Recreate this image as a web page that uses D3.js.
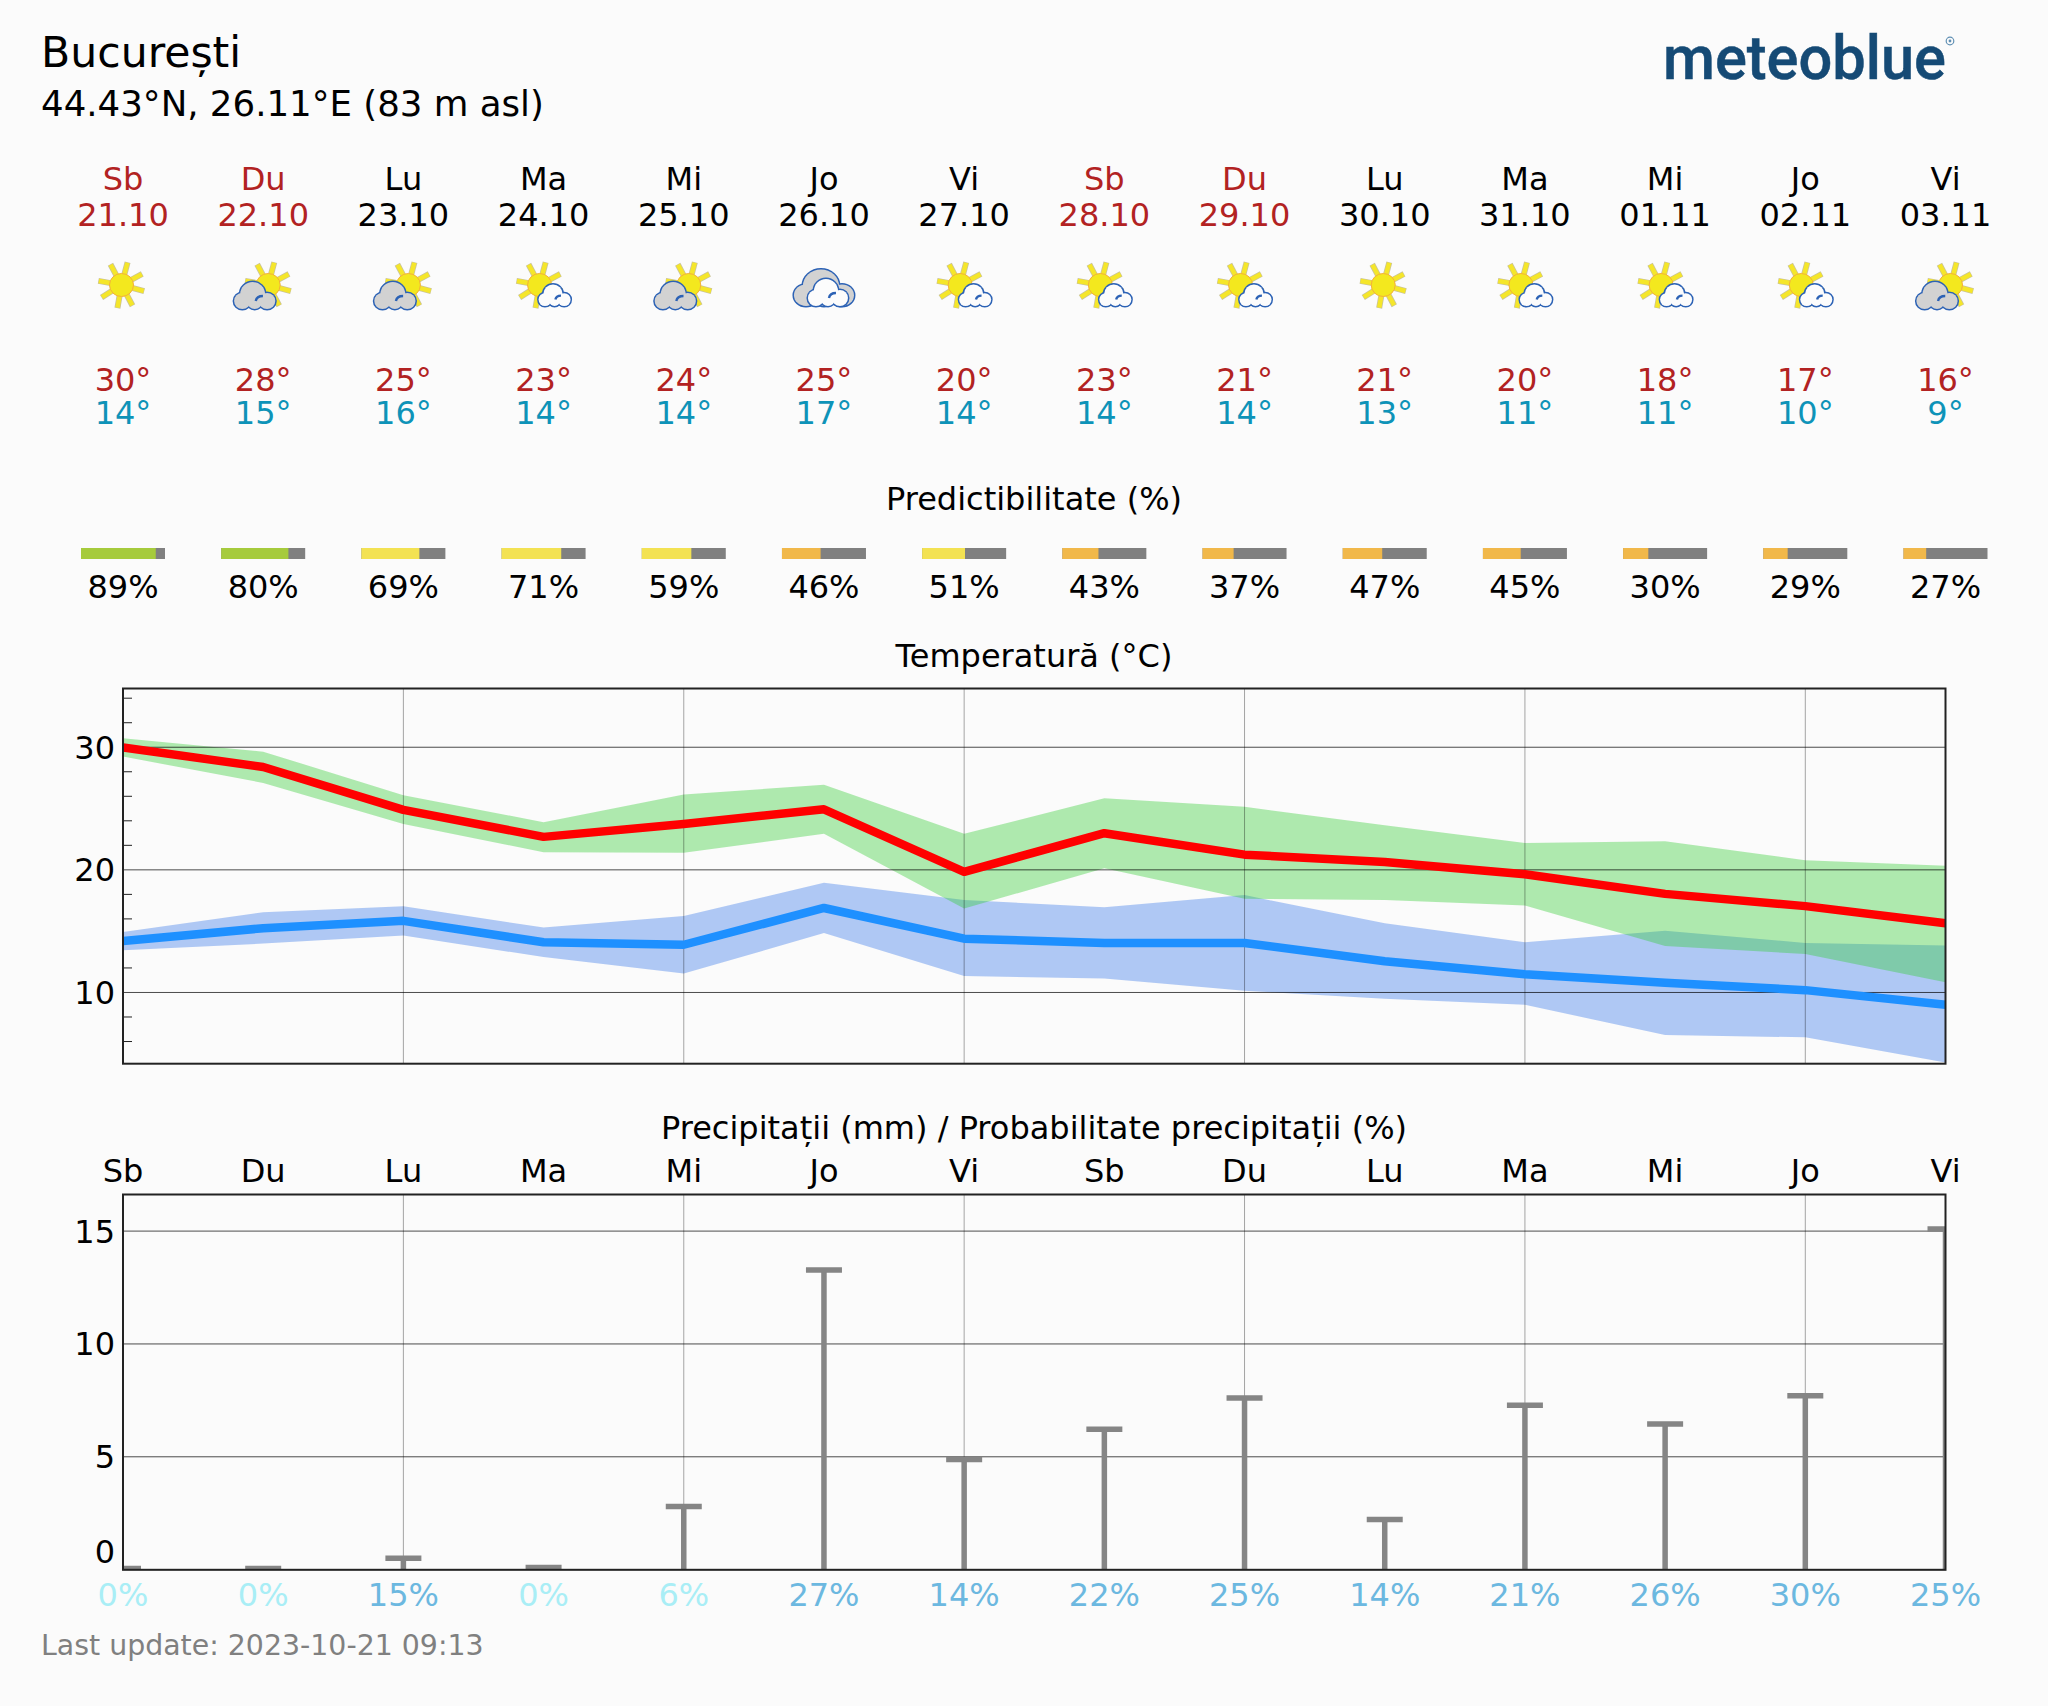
<!DOCTYPE html>
<html>
<head>
<meta charset="utf-8">
<script src="https://cdn.jsdelivr.net/npm/d3@7"></script>
<style>
html,body{margin:0;padding:0;background:#fbfbfb}
svg{display:block}
text{font-family:"DejaVu Sans",sans-serif}
</style>
</head>
<body>
<svg id="chart" width="2048" height="1706"></svg>
<script>
const dayNames = ["Sb","Du","Lu","Ma","Mi","Jo","Vi","Sb","Du","Lu","Ma","Mi","Jo","Vi"];
const dates = ["21.10","22.10","23.10","24.10","25.10","26.10","27.10","28.10","29.10","30.10","31.10","01.11","02.11","03.11"];
const weekend = [1,1,0,0,0,0,0,1,1,0,0,0,0,0];
const icons = ["sun","sunGrey","sunGrey","sunWhite","sunGrey","clouds","sunWhite","sunWhite","sunWhite","sun","sunWhite","sunWhite","sunWhite","sunGrey"];
const tempMaxLabels = [30,28,25,23,24,25,20,23,21,21,20,18,17,16];
const tempMinLabels = [14,15,16,14,14,17,14,14,14,13,11,11,10,9];
const predictability = [89,80,69,71,59,46,51,43,37,47,45,30,29,27];
const tempMax = [29.95,28.35,24.85,22.65,23.7,24.9,19.8,22.95,21.2,20.6,19.6,18.0,17.0,15.6];
const tempMaxUpper = [30.7,29.6,26.05,23.85,26.1,26.9,22.9,25.8,25.1,23.6,22.15,22.3,20.75,20.3];
const tempMaxLower = [29.2,27.05,23.7,21.4,21.35,22.9,16.8,20.1,17.6,17.5,17.05,13.75,13.1,10.8];
const tempMin = [14.15,15.2,15.8,14.05,13.85,16.85,14.35,14.0,14.0,12.5,11.45,10.75,10.15,8.95];
const tempMinUpper = [14.9,16.5,17.0,15.25,16.2,18.9,17.5,16.9,17.9,15.6,14.05,15.0,14.0,13.8];
const tempMinLower = [13.4,13.95,14.6,12.85,11.5,14.8,11.3,11.1,10.1,9.45,8.95,6.5,6.3,4.25];
const precip = [0.03,0.03,0.48,0.07,2.78,13.26,4.86,6.2,7.58,2.2,7.26,6.43,7.68,15.07];
const precipProb = [0,0,15,0,6,27,14,22,25,14,21,26,30,25];
const tempTicks = [10,20,30];
const tempMinorTicks = [6,8,12,14,16,18,22,24,26,28,32,34];
const precipTicks = [0,5,10,15];
const gridDays = [2,4,6,8,10,12];

const FS = 32;
const svg = d3.select("#chart");
const L = 123, R = 1945.5;
const x = d3.scaleLinear().domain([0,13]).range([L,R]);
const yT = d3.scaleLinear().domain([4.15,34.75]).range([1063.7,688.5]);
const yP = d3.scaleLinear().domain([-0.03,16.6]).range([1569.8,1194.5]);
const idx = d3.range(14);

function txt(s,xp,yp,opt={}){
  return svg.append("text").attr("x",xp).attr("y",yp)
    .attr("text-anchor",opt.anchor||"middle").attr("font-size",opt.size||FS)
    .attr("fill",opt.fill||"#000").text(s);
}
// header
txt("București",41,67,{anchor:"start",size:42.6});
txt("44.43°N, 26.11°E (83 m asl)",41,116,{anchor:"start",size:35.6});
// logo
svg.append("text").attr("x",1663).attr("y",79).attr("text-anchor","start")
  .attr("font-size",62).attr("fill","#154a75").attr("font-weight",500)
  .attr("stroke","#154a75").attr("stroke-width",0.5)
  .attr("textLength",283).attr("lengthAdjust","spacingAndGlyphs")
  .style("font-family","Roboto").text("meteoblue");
svg.append("circle").attr("cx",1950).attr("cy",41).attr("r",3.8).attr("fill","none").attr("stroke","#5f8fb3").attr("stroke-width",1.2);
svg.append("circle").attr("cx",1950).attr("cy",41).attr("r",1.4).attr("fill","#5f8fb3");

const RED="#b22222", CYAN="#0e93b8";
idx.forEach(i=>{
  const c = weekend[i]?RED:"#000";
  txt(dayNames[i],x(i),190,{fill:c});
  txt(dates[i],x(i),226,{fill:c});
  txt(tempMaxLabels[i]+"°",x(i),391,{fill:RED});
  txt(tempMinLabels[i]+"°",x(i),424,{fill:CYAN});
  txt(predictability[i]+"%",x(i),598,{});
  txt(precipProb[i]+"%",x(i),1606,{fill:precipProb[i]>=10?"#6cb8e0":"#a9eef6"});
  txt(dayNames[i],x(i),1182,{});
});
txt("Predictibilitate (%)",1034,510);
txt("Temperatură (°C)",1034,667);
txt("Precipitații (mm) / Probabilitate precipitații (%)",1034,1139);
txt("Last update: 2023-10-21 09:13",41,1655,{anchor:"start",size:28.4,fill:"#808080"});

// predictability bars
const pw = d3.scaleLinear().domain([0,100]).range([0,84]);
const pColor = p => p>=80?"#a6cb3c":p>=50?"#f3e252":"#f1b84a";
idx.forEach(i=>{
  const x0=x(i)-42;
  svg.append("rect").attr("x",x0).attr("y",548).attr("width",84).attr("height",11).attr("fill","#808080");
  svg.append("rect").attr("x",x0).attr("y",548).attr("width",pw(predictability[i])).attr("height",11).attr("fill",pColor(predictability[i]));
});

// icons
function sun(g,cx,cy){
  const list=[-75,-118,-170,-28,15,62,100,148];
  list.forEach(a=>{
    const t=a*Math.PI/180;
    g.append("line").attr("x1",cx+11*Math.cos(t)).attr("y1",cy+11*Math.sin(t))
      .attr("x2",cx+23.5*Math.cos(t)).attr("y2",cy+23.5*Math.sin(t))
      .attr("stroke","#c9c39a").attr("stroke-width",6);
    g.append("line").attr("x1",cx+11*Math.cos(t)).attr("y1",cy+11*Math.sin(t))
      .attr("x2",cx+23*Math.cos(t)).attr("y2",cy+23*Math.sin(t))
      .attr("stroke","#f5e62a").attr("stroke-width",4.5);
  });
  g.append("ellipse").attr("cx",cx).attr("cy",cy).attr("rx",12).attr("ry",11.5)
    .attr("fill","#f3e81e").attr("stroke","#f4b03a").attr("stroke-width",1);
}
function cloud(g,cx,cy,sx,sy,fill){
  const blobs=[[-12,-8,8],[-2,-15,12],[12,-8,8],[0,-7,7]];
  blobs.forEach(b=>g.append("ellipse").attr("cx",cx+b[0]*sx).attr("cy",cy+b[1]*sy).attr("rx",b[2]*sx).attr("ry",b[2]*sy)
    .attr("fill",fill).attr("stroke","#2c62b5").attr("stroke-width",3));
  blobs.forEach(b=>g.append("ellipse").attr("cx",cx+b[0]*sx).attr("cy",cy+b[1]*sy).attr("rx",b[2]*sx).attr("ry",b[2]*sy).attr("fill",fill));
  g.append("path").attr("d",`M${cx+1*sx},${cy-8*sy}q${1*sx},${-5*sy} ${7*sx},${-5*sy}`)
    .attr("fill","none").attr("stroke","#2c62b5").attr("stroke-width",2.4);
}
const drawIcon={
  sun:(g,c)=>sun(g,c-1.5,285),
  sunGrey:(g,c)=>{sun(g,c+5,285);cloud(g,c-8.5,309,1.03,1.0,"#d2d2d2");},
  sunWhite:(g,c)=>{sun(g,c-4,285);cloud(g,c+11,306,0.8,0.8,"#fcfcfc");},
  clouds:(g,c)=>{
    cloud(g,c,306,1.5,1.35,"#d2d2d2");
    cloud(g,c+4,306,1.0,1.0,"#fcfcfc");
  }
};
idx.forEach(i=>drawIcon[icons[i]](svg.append("g"),x(i)));

// temperature plot
svg.append("clipPath").attr("id","clipT").append("rect").attr("x",L).attr("y",688.5).attr("width",R-L).attr("height",375.2);
const gT = svg.append("g").attr("clip-path","url(#clipT)");
const area=(lo,hi)=>d3.area().x(i=>x(i)).y0(i=>yT(lo[i])).y1(i=>yT(hi[i]))(idx);
gT.append("path").attr("d",area(tempMinLower,tempMinUpper)).attr("fill","cornflowerblue").attr("fill-opacity",0.5);
gT.append("path").attr("d",area(tempMaxLower,tempMaxUpper)).attr("fill","limegreen").attr("fill-opacity",0.38);

function vgrid(y0,y1){
  svg.append("g").selectAll("line").data(gridDays).join("line")
    .attr("x1",d=>x(d)).attr("x2",d=>x(d)).attr("y1",y0).attr("y2",y1)
    .attr("stroke","#000").attr("stroke-opacity",0.35).attr("stroke-width",1);
}
vgrid(688.5,1063.7);
const hgridT = svg.append("g").attr("transform",`translate(${L},0)`)
  .call(d3.axisLeft(yT).tickValues(tempTicks).tickSize(-(R-L)).tickPadding(8).tickFormat(d3.format("d")));
const minorT = svg.append("g").attr("transform",`translate(${L},0)`)
  .call(d3.axisRight(yT).tickValues(tempMinorTicks).tickSize(9).tickFormat(""));
minorT.select(".domain").remove();
minorT.selectAll("line").attr("stroke","#222").attr("stroke-width",1);

const line=(v)=>d3.line().x(i=>x(i)).y(i=>yT(v[i]))(idx);
const gT2 = svg.append("g").attr("clip-path","url(#clipT)");
gT2.append("path").attr("d",line(tempMin)).attr("fill","none").attr("stroke","#1e90ff").attr("stroke-width",8.5).attr("stroke-linejoin","round");
gT2.append("path").attr("d",line(tempMax)).attr("fill","none").attr("stroke","#ff0000").attr("stroke-width",8.5).attr("stroke-linejoin","round");
svg.append("rect").attr("x",L).attr("y",688.5).attr("width",R-L).attr("height",375.2).attr("fill","none").attr("stroke","#222").attr("stroke-width",2);

// precipitation plot
vgrid(1194.5,1569.8);
const hgridP = svg.append("g").attr("transform",`translate(${L},0)`)
  .call(d3.axisLeft(yP).tickValues(precipTicks).tickSize(-(R-L)).tickPadding(8).tickFormat(d3.format("d")));
[hgridT,hgridP].forEach(a=>{
  a.select(".domain").remove();
  a.selectAll("line").attr("stroke","#000").attr("stroke-opacity",0.7).attr("stroke-width",1);
  a.selectAll("text").attr("font-size",FS).attr("fill","#000").style("font-family","DejaVu Sans");
});
hgridT.selectAll("text").attr("dy","0.36em");
hgridP.selectAll(".tick").select("text").attr("dy",d=>d===0?"-0.22em":"0.36em");

svg.append("clipPath").attr("id","clipP").append("rect").attr("x",L).attr("y",1194.5).attr("width",R-L).attr("height",375.3);
const gP = svg.append("g").attr("clip-path","url(#clipP)");
gP.selectAll("line.stem").data(idx).join("line").attr("class","stem")
  .attr("x1",i=>x(i)).attr("x2",i=>x(i)).attr("y1",yP(-0.03)).attr("y2",i=>yP(precip[i]))
  .attr("stroke","#858585").attr("stroke-width",5.5);
gP.selectAll("line.cap").data(idx).join("line").attr("class","cap")
  .attr("x1",i=>x(i)-18).attr("x2",i=>x(i)+18).attr("y1",i=>yP(precip[i])).attr("y2",i=>yP(precip[i]))
  .attr("stroke","#858585").attr("stroke-width",5.5);
svg.append("rect").attr("x",L).attr("y",1194.5).attr("width",R-L).attr("height",375.3).attr("fill","none").attr("stroke","#222").attr("stroke-width",2);
</script>
</body>
</html>
